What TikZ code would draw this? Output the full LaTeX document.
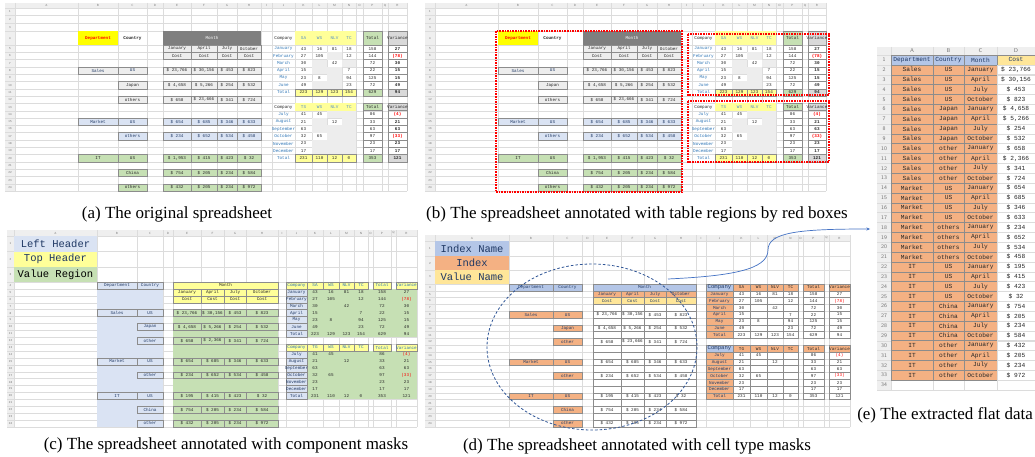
\documentclass[tikz,border=0pt]{standalone}
\usepackage{fontspec}
\setmainfont{Liberation Serif}
\newfontfamily\monof{Liberation Mono}
\usetikzlibrary{calc,arrows.meta}
\definecolor{hdrF}{HTML}{EFEFEF}
\definecolor{gridC}{HTML}{DCDCDC}
\definecolor{brdC}{HTML}{8C8C8C}
\definecolor{yelB}{HTML}{FFFF00}
\definecolor{yelL}{HTML}{FFFF99}
\definecolor{grnF}{HTML}{C6E0B4}
\definecolor{grayF}{HTML}{EDEDED}
\definecolor{grayD}{HTML}{7F7F7F}
\definecolor{grayM}{HTML}{D9D9D9}
\definecolor{bluF}{HTML}{DAE3F3}
\definecolor{bluM}{HTML}{B4C6E7}
\definecolor{orgF}{HTML}{F4B183}
\definecolor{ylwM}{HTML}{FFE699}
\definecolor{txtB}{HTML}{2E75B6}
\definecolor{txtD}{HTML}{1F3864}
\definecolor{redT}{HTML}{FF0000}
\definecolor{arrC}{HTML}{4472C4}
\definecolor{dashC}{HTML}{2F5597}
\tikzset{
 ct/.style={font=\fontsize{4.3}{5}\selectfont\monof, inner sep=0pt, text=black!85},
 bf/.style={font=\fontsize{4.3}{5}\selectfont\monof\bfseries},
 hdrtxt/.style={font=\fontsize{#1}{#1}\selectfont\sffamily, text=black!55, inner sep=0pt},
 gl/.style={draw=gridC, line width=.3pt},
 gc/.style={fill=grayF, draw=brdC, line width=.35pt},
 bc/.style={fill=bluF, draw=brdC, line width=.35pt, text=txtD},
 nc/.style={fill=grnF, draw=brdC, line width=.35pt},
 bx/.style={draw=brdC, line width=.35pt},
 captxt/.style={font=\fontsize{17}{20}\selectfont, inner sep=0pt},
 bigtxt/.style={font=\fontsize{10.5}{12}\selectfont\monof, text=txtD},
 efont/.style={font=\fontsize{6.2}{7}\selectfont\monof},
 redbox/.style={draw=redT, line width=1.1pt, dash pattern=on 1.6pt off 1pt},
}
% column / row boundary coordinates
\newcommand\mkcols[2]{\foreach \xx [count=\ix from 0] in {#2}{\coordinate (#1-c\ix) at (\xx,0);}}
\newcommand\mkrows[6]{%
 \foreach \yy [count=\ix from 0] in {#2}{\coordinate (#1-r\ix) at (0,\yy);}%
 \foreach \kr in {#3,...,#6}{\coordinate (#1-r\kr) at (0,{#4+(\kr-#3)*#5});}}
% one cell (or merged cells): panel, col from, col to, row, style, text
\newcommand\cel[6]{%
 \pgfmathtruncatemacro\celE{#3+1}\pgfmathtruncatemacro\celR{#4+1}%
 \path[#5] (#1-c#2 |- #1-r#4) rectangle (#1-c\celE |- #1-r\celR);
 \node[ct,#5,draw=none,fill=none] at ($(#1-c#2 |- #1-r#4)!.5!(#1-c\celE |- #1-r\celR)$) {#6};}
\newcommand\rvals[5]{\foreach \vv [count=\jc from #3] in {#5}{\cel{#1}{\jc}{\jc}{#2}{#4}{\vv}}}
\newcommand\sgrid[5]{%
 \fill[hdrF] (#1-c0 |- #1-r0) rectangle (#1-c#2 |- #1-r1);
 \fill[hdrF] (#1-c0 |- #1-r1) rectangle (#1-c1 |- #1-r#3);
 \foreach \ix in {1,...,#2}{\draw[gl] (#1-c\ix |- #1-r0) -- (#1-c\ix |- #1-r#3);}
 \foreach \ix in {1,...,#3}{\draw[gl] (#1-c0 |- #1-r\ix) -- (#1-c#2 |- #1-r\ix);}
 \foreach \L [count=\ix] in {#4}{\pgfmathtruncatemacro\ixx{\ix+1}%
   \node[hdrtxt=#5] at ($(#1-c\ix |- #1-r0)!.5!(#1-c\ixx |- #1-r1)$) {\L};}
 \pgfmathtruncatemacro\nrw{#3-1}%
 \foreach \kr in {1,...,\nrw}{\pgfmathtruncatemacro\krr{\kr+1}%
   \node[hdrtxt=#5] at ($(#1-c0 |- #1-r\kr)!.5!(#1-c1 |- #1-r\krr)$) {\kr};}}
% right-hand tables
\newcommand\vcel[5]{\ifx#4\empty\cel{#1}{#2}{#2}{#3}{#5E}{}\else\cel{#1}{#2}{#2}{#3}{#5V}{#4}\fi}
\newcommand\drows[4]{%
 \foreach \qa/\qb/\qc/\qd/\qe/\qf/\qg [count=\ir from #2] in {#4}{%
  \cel{#1}{10}{10}{\ir}{#3J}{\qa}%
  \vcel{#1}{11}{\ir}{\qb}{#3}\vcel{#1}{12}{\ir}{\qc}{#3}\vcel{#1}{13}{\ir}{\qd}{#3}\vcel{#1}{14}{\ir}{\qe}{#3}%
  \cel{#1}{16}{16}{\ir}{#3P}{\qf}%
  \cel{#1}{18}{18}{\ir}{#3R}{\qg}}}
\newcommand\hdrrow[6]{%
 \cel{#1}{10}{10}{#2}{hJ}{#3}%
 \foreach \vv [count=\jc from 11] in {#4}{\cel{#1}{\jc}{\jc}{#2}{hV}{\vv}}%
 \cel{#1}{16}{16}{#2}{hP}{#5}%
 \cel{#1}{18}{18}{#2}{hR}{#6}}
\newcommand\rtables[2]{%
 \hdrrow{#1}{4}{Company}{SA,WS,NLV,TC}{Total}{Variance}%
 \drows{#1}{5}{d}{January/43/16/81/18/158/27, February/27/105//12/144/{\color{redT}(78)}, March/30//42//72/30, April/15///7/22/15, May/23/8//94/125/15, June/49///23/72/49}%
 \drows{#1}{11}{t}{Total/223/129/123/154/629/94}%
 \hdrrow{#1}{13}{Company}{#2}{Total}{Variance}%
 \drows{#1}{14}{d}{July/41/45///86/{\color{redT}(4)}, August/21//12//33/21, September/63////63/63, October/32/65///97/{\color{redT}(33)}, November/23////23/23, December/17////17/17}%
 \drows{#1}{20}{t}{Total/231/110/12/0/353/121}}
% left part of the original sheet
\newcommand\sheetA[1]{%
 \cel{#1}{2}{2}{4}{fill=yelB}{\color{redT}\bfseries Department}
 \cel{#1}{3}{3}{4}{}{\bfseries Country}
 \cel{#1}{5}{8}{4}{fill=grayD}{\color{white}Month}
 \rvals{#1}{5}{5}{gc}{January,April,July,October}
 \rvals{#1}{6}{5}{gc}{Cost,Cost,Cost,Cost}
 \cel{#1}{2}{2}{8}{gc}{\color{txtD}Sales}
 \cel{#1}{3}{3}{8}{gc}{\color{txtD}US}
 \rvals{#1}{8}{5}{gc}{{\$ 23,766},{\$ 30,156},{\$ 453},{\$ 823}}
 \cel{#1}{3}{3}{10}{gc}{Japan}
 \rvals{#1}{10}{5}{gc}{{\$ 4,658},{\$ 5,266},{\$ 254},{\$ 532}}
 \cel{#1}{3}{3}{12}{gc}{others}
 \rvals{#1}{12}{5}{gc}{{\$ 658},{\$ 23,666},{\$ 341},{\$ 724}}
 \cel{#1}{2}{2}{15}{bc}{Market}
 \cel{#1}{3}{3}{15}{bc}{US}
 \rvals{#1}{15}{5}{bc}{{\$ 654},{\$ 685},{\$ 346},{\$ 633}}
 \cel{#1}{3}{3}{17}{bc}{others}
 \rvals{#1}{17}{5}{bc}{{\$ 234},{\$ 652},{\$ 534},{\$ 458}}
 \cel{#1}{2}{2}{20}{nc}{IT}
 \cel{#1}{3}{3}{20}{nc}{US}
 \rvals{#1}{20}{5}{nc}{{\$ 1,953},{\$ 415},{\$ 423},{\$ 32}}
 \cel{#1}{3}{3}{22}{nc}{China}
 \rvals{#1}{22}{5}{nc}{{\$ 754},{\$ 205},{\$ 234},{\$ 584}}
 \cel{#1}{3}{3}{24}{nc}{others}
 \rvals{#1}{24}{5}{nc}{{\$ 432},{\$ 205},{\$ 234},{\$ 972}}}
\newcommand\stylesA{\tikzset{hJ/.style={},hV/.style={fill=yelL,text=txtB!80},hP/.style={fill=grnF,draw=brdC},hR/.style={fill=grayM,draw=brdC},
 dJ/.style={text=txtB},dV/.style={},dE/.style={fill=grayF},dP/.style={draw=brdC},dR/.style={draw=brdC,bf},
 tJ/.style={text=txtB},tV/.style={fill=yelL,draw=brdC},tE/.style={fill=yelL,draw=brdC},tP/.style={fill=grnF,draw=brdC},tR/.style={fill=grayM,draw=brdC,bf}}}
% values of the middle block (c, d)
\newcommand\valsCD[3]{% panel, style, row-12 second value
 \rvals{#1}{8}{5}{#2}{{\$ 23,766},{\$ 30,156},{\$ 453},{\$ 823}}
 \rvals{#1}{10}{5}{#2}{{\$ 4,658},{\$ 5,266},{\$ 254},{\$ 532}}
 \rvals{#1}{12}{5}{#2}{{\$ 658},{#3},{\$ 341},{\$ 724}}
 \rvals{#1}{15}{5}{#2}{{\$ 654},{\$ 685},{\$ 346},{\$ 633}}
 \rvals{#1}{17}{5}{#2}{{\$ 234},{\$ 652},{\$ 534},{\$ 458}}
 \rvals{#1}{20}{5}{#2}{{\$ 195},{\$ 415},{\$ 423},{\$ 32}}
 \rvals{#1}{22}{5}{#2}{{\$ 754},{\$ 205},{\$ 234},{\$ 584}}
 \rvals{#1}{24}{5}{#2}{{\$ 432},{\$ 205},{\$ 234},{\$ 972}}}
\newcommand\indexCD[2]{% panel, style
 \cel{#1}{2}{2}{8}{#2}{Sales}\cel{#1}{3}{3}{8}{#2}{US}
 \cel{#1}{3}{3}{10}{#2}{Japan}\cel{#1}{3}{3}{12}{#2}{other}
 \cel{#1}{2}{2}{15}{#2}{Market}\cel{#1}{3}{3}{15}{#2}{US}
 \cel{#1}{3}{3}{17}{#2}{other}
 \cel{#1}{2}{2}{20}{#2}{IT}\cel{#1}{3}{3}{20}{#2}{US}
 \cel{#1}{3}{3}{22}{#2}{China}\cel{#1}{3}{3}{24}{#2}{other}}
\begin{document}
\begin{tikzpicture}[x=1pt,y=-1pt]
\useasboundingbox (0,0) rectangle (1035,457);
\fill[white] (0,0) rectangle (1035,457);
% ---------------- (a)
\mkcols{a}{5,15,78,118,147,163,191,217,237,261,272,295,312,327,342,356,363,382,388,407}
\mkrows{a}{3,8,15.5,23,31.5}{5}{45}{7.3}{25}
\sgrid{a}{19}{25}{A,...,R}{3}
\sheetA{a}
\begin{scope}\stylesA\rtables{a}{TS,WS,NLV,TC}\end{scope}
\node[captxt] (capa) at (177,214) {(a) The original spreadsheet};
% ---------------- (b)
\mkcols{b}{425,435,498,538,567,583,611,637,657,681,692,715,732,747,762,776,783,802,808,826}
\mkrows{b}{3,8,15.5,23,31.5}{5}{45}{7.3}{25}
\sgrid{b}{19}{25}{A,...,R}{3}
\sheetA{b}
\begin{scope}\stylesA\rtables{b}{TS,WS,NLV,TC}\end{scope}
\draw[redbox] (496,31) rectangle (682,192);
\draw[redbox] (688,34) rectangle (829,95);
\draw[redbox] (688,101) rectangle (829,162);
\node[captxt] (capb) at (637,214) {(b) The spreadsheet annotated with table regions by red boxes};
% ---------------- (c)
\mkcols{c}{7,14,97,137,163,173,201,224,246,278,286,307,323,339,354,368,373,391,396,417}
\mkrows{c}{230,236,251.5,267}{4}{282}{6.9}{25}
\sgrid{c}{19}{25}{A,...,R}{3}
\cel{c}{1}{1}{1}{fill=bluF,bigtxt}{Left Header}
\cel{c}{1}{1}{2}{fill=yelL,bigtxt}{Top Header}
\cel{c}{1}{1}{3}{fill=grnF,bigtxt,text=black}{Value Region}
\fill[bluF] (c-c2 |- c-r4) rectangle (c-c4 |- c-r25);
\cel{c}{2}{2}{4}{bx,text=txtD}{Department}
\cel{c}{3}{3}{4}{bx,text=txtD}{Country}
\indexCD{c}{bx,text=txtD}
\fill[yelL] (c-c5 |- c-r4) rectangle (c-c9 |- c-r7);
\cel{c}{5}{8}{4}{bx}{Month}
\rvals{c}{5}{5}{bx}{January,April,July,October}
\rvals{c}{6}{5}{bx}{Cost,Cost,Cost,Cost}
\fill[grnF] (c-c5 |- c-r8) rectangle (c-c9 |- c-r25);
\valsCD{c}{bx}{\$ 2,366}
\fill[grnF] (c-c11 |- c-r5) rectangle (c-c19 |- c-r12);
\fill[grnF] (c-c11 |- c-r14) rectangle (c-c19 |- c-r21);
\begin{scope}
\tikzset{hJ/.style={fill=yelL,draw=brdC,text=txtB},hV/.style={fill=yelL,draw=brdC,text=txtB},hP/.style={fill=yelL,draw=brdC,text=txtB},hR/.style={fill=yelL,draw=brdC,text=txtB},
 dJ/.style={fill=bluF,draw=brdC,text=txtD},dV/.style={},dE/.style={},dP/.style={},dR/.style={},
 tJ/.style={fill=bluF,draw=brdC,text=txtD},tV/.style={},tE/.style={},tP/.style={},tR/.style={}}
\rtables{c}{TG,WS,NLV,TC}
\end{scope}
\node[captxt] (capc) at (226,445) {(c) The spreadsheet annotated with component masks};
% ---------------- (d)
\mkcols{d}{425,435,509,553,582,593,621,644,666,696,706,733,750,767,783,798,803,824,829,850}
\mkrows{d}{235,241,256,270}{4}{284}{6.8}{25}
\sgrid{d}{19}{25}{A,...,R}{3}
\cel{d}{1}{1}{1}{fill=bluM,bigtxt}{Index Name}
\cel{d}{1}{1}{2}{fill=orgF,bigtxt}{Index}
\cel{d}{1}{1}{3}{fill=ylwM,bigtxt}{Value Name}
\cel{d}{2}{2}{4}{fill=bluM,bx,text=txtD}{Department}
\cel{d}{3}{3}{4}{fill=bluM,bx,text=txtD}{Country}
\indexCD{d}{fill=orgF,bx,text=txtD}
\cel{d}{5}{8}{4}{fill=bluM,bx,text=txtD}{Month}
\rvals{d}{5}{5}{fill=orgF,bx,text=txtD}{January,April,July,October}
\rvals{d}{6}{5}{fill=ylwM,bx,text=txtD}{Cost,Cost,Cost,Cost}
\foreach \rr in {7,...,24}{\foreach \cc in {5,...,8}{\cel{d}{\cc}{\cc}{\rr}{bx}{}}}
\valsCD{d}{}{\$ 23,666}
\begin{scope}
\tikzset{hJ/.style={fill=bluM,draw=brdC,text=txtD,font=\fontsize{5.6}{6}\selectfont\monof},hV/.style={fill=orgF,draw=brdC},hP/.style={fill=orgF,draw=brdC},hR/.style={fill=orgF,draw=brdC},
 dJ/.style={fill=orgF,draw=brdC,text=txtD},dV/.style={bx},dE/.style={bx},dP/.style={bx},dR/.style={bx},
 tJ/.style={fill=orgF,draw=brdC,text=txtD},tV/.style={bx},tE/.style={bx},tP/.style={bx},tR/.style={bx}}
\rtables{d}{TG,WS,NLV,TC}
\end{scope}
\coordinate (ellC) at (592,347);
\draw[dashC, line width=.8pt, dash pattern=on 2.6pt off 2pt] (ellC) ellipse [x radius=105, y radius=83];
\node[captxt] (capd) at (637,446) {(d) The spreadsheet annotated with cell type masks};
% ---------------- (e)
\mkcols{e}{877,891,933,964,997,1035}
\mkrows{e}{47}{1}{55}{9.85}{35}
\sgrid{e}{5}{35}{A,B,C,D}{5.5}
\cel{e}{1}{1}{1}{fill=bluM,bx,efont,text=txtD}{Department}
\cel{e}{2}{2}{1}{fill=bluM,bx,efont,text=txtD}{Country}
\cel{e}{3}{3}{1}{fill=bluM,bx,efont,text=txtD}{Month}
\cel{e}{4}{4}{1}{fill=ylwM,bx,efont,text=txtD}{Cost}
\foreach \ea/\eb/\ec/\ed [count=\ir from 2] in {
 Sales/US/January/{\$ 23,766}, Sales/US/April/{\$ 30,156}, Sales/US/July/{\$ 453}, Sales/US/October/{\$ 823},
 Sales/Japan/January/{\$ 4,658}, Sales/Japan/April/{\$ 5,266}, Sales/Japan/July/{\$ 254}, Sales/Japan/October/{\$ 532},
 Sales/other/January/{\$ 658}, Sales/other/April/{\$ 2,366}, Sales/other/July/{\$ 341}, Sales/other/October/{\$ 724},
 Market/US/January/{\$ 654}, Market/US/April/{\$ 685}, Market/US/July/{\$ 346}, Market/US/October/{\$ 633},
 Market/others/January/{\$ 234}, Market/others/April/{\$ 652}, Market/others/July/{\$ 534}, Market/others/October/{\$ 458},
 IT/US/January/{\$ 195}, IT/US/April/{\$ 415}, IT/US/July/{\$ 423}, IT/US/October/{\$ 32},
 IT/China/January/{\$ 754}, IT/China/April/{\$ 205}, IT/China/July/{\$ 234}, IT/China/October/{\$ 584},
 IT/other/January/{\$ 432}, IT/other/April/{\$ 205}, IT/other/July/{\$ 234}, IT/other/October/{\$ 972}}{
 \cel{e}{1}{1}{\ir}{fill=orgF,bx,efont}{\ea}
 \cel{e}{2}{2}{\ir}{fill=orgF,bx,efont}{\eb}
 \cel{e}{3}{3}{\ir}{fill=orgF,bx,efont}{\ec}
 \cel{e}{4}{4}{\ir}{draw=gridC,efont}{\ed}}
\node[captxt,anchor=east] (cape) at (1033,415) {(e) The extracted flat data};
% ---------------- arrow from (d) to (e)
\coordinate (arrS) at (668,279);
\coordinate (arrE) at (870,229);
\draw[arrC, line width=.7pt, -{Stealth[length=3.5pt,width=3pt]}] (arrS) .. controls (730,276) and (768,270) .. (768,250) .. controls (768,232) and (800,229) .. (arrE);
\end{tikzpicture}
\end{document}
